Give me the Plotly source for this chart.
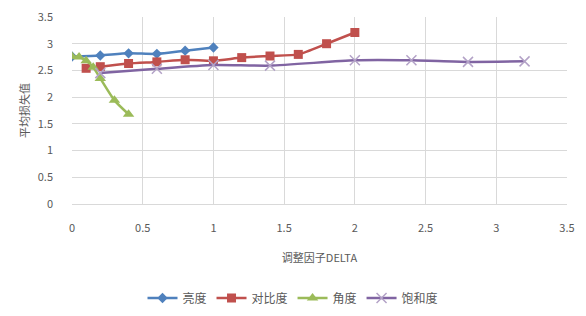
import plotly.graph_objects as go

# Data
x_brightness = [0, 0.2, 0.4, 0.6, 0.8, 1.0]
y_brightness = [2.76, 2.78, 2.82, 2.81, 2.87, 2.93]

x_contrast = [0.1, 0.2, 0.4, 0.6, 0.8, 1.0, 1.2, 1.4, 1.6, 1.8, 2.0]
y_contrast = [2.54, 2.57, 2.63, 2.66, 2.70, 2.68, 2.74, 2.77, 2.80, 3.00, 3.21]

x_angle = [0, 0.05, 0.1, 0.15, 0.2, 0.3, 0.4]
y_angle = [2.76, 2.75, 2.68, 2.56, 2.35, 1.94, 1.68]

x_saturation = [0.2, 0.6, 1.0, 1.4, 2.0, 2.4, 2.8, 3.2]
y_saturation = [2.45, 2.53, 2.60, 2.59, 2.69, 2.69, 2.66, 2.67]

names = ["亮度", "对比度", "角度", "饱和度"]

FONT = "Noto Sans CJK SC"
GRAY = "#595959"

W, H = 586, 316

fig = go.Figure()
fig.add_trace(go.Scatter(
    x=x_brightness, y=y_brightness, name=names[0], mode="lines+markers",
    line=dict(color="#4F81BD", width=2.5, shape="spline", smoothing=0.6),
    marker=dict(symbol="diamond", size=8, color="#4F81BD")))
fig.add_trace(go.Scatter(
    x=x_contrast, y=y_contrast, name=names[1], mode="lines+markers",
    line=dict(color="#C0504D", width=2.5, shape="spline", smoothing=0.6),
    marker=dict(symbol="square", size=9, color="#C0504D")))
fig.add_trace(go.Scatter(
    x=x_angle, y=y_angle, name=names[2], mode="lines+markers",
    line=dict(color="#9BBB59", width=2.5, shape="spline", smoothing=0.6),
    marker=dict(symbol="triangle-up", size=10, color="#9BBB59")))
fig.add_trace(go.Scatter(
    x=x_saturation, y=y_saturation, name=names[3], mode="lines+markers",
    line=dict(color="#8064A2", width=2.5, shape="spline", smoothing=0.6),
    marker=dict(symbol="x-thin-open", size=10, color="#B3A2C7",
                line=dict(color="#B3A2C7", width=1.5))))

fig.update_layout(
    width=W, height=H,
    margin=dict(l=72, r=19, t=17, b=112, autoexpand=False),
    paper_bgcolor="white", plot_bgcolor="white",
    font=dict(family=FONT, size=11, color=GRAY),
    showlegend=True,
    legend=dict(orientation="h", x=0.5, xanchor="center", xref="container",
                y=(H - 298) / H, yanchor="middle", yref="container",
                font=dict(size=12, color=GRAY), itemwidth=30,
                tracegroupgap=0),
)
fig.update_xaxes(
    range=[0, 3.5], dtick=0.5, tick0=0, automargin=False,
    showgrid=True, gridcolor="#D9D9D9", gridwidth=1,
    showline=True, linecolor="#D9D9D9", linewidth=1,
    zeroline=False, ticks="", ticklabelstandoff=14,
    tickfont=dict(size=11, color=GRAY),
    title=dict(text="调整因子DELTA", font=dict(size=11, color=GRAY), standoff=20),
)
fig.update_yaxes(
    range=[0, 3.5], dtick=0.5, tick0=0, automargin=False,
    showgrid=True, gridcolor="#D9D9D9", gridwidth=1,
    showline=False, zeroline=False, ticks="", ticklabelstandoff=18,
    tickfont=dict(size=11, color=GRAY),
    title=dict(text="平均损失值", font=dict(size=11, color=GRAY), standoff=5),
)

fig.write_html("out.html",
               config={"displayModeBar": False},
               post_script="document.body.style.margin='0px';document.body.style.overflow='hidden';")
